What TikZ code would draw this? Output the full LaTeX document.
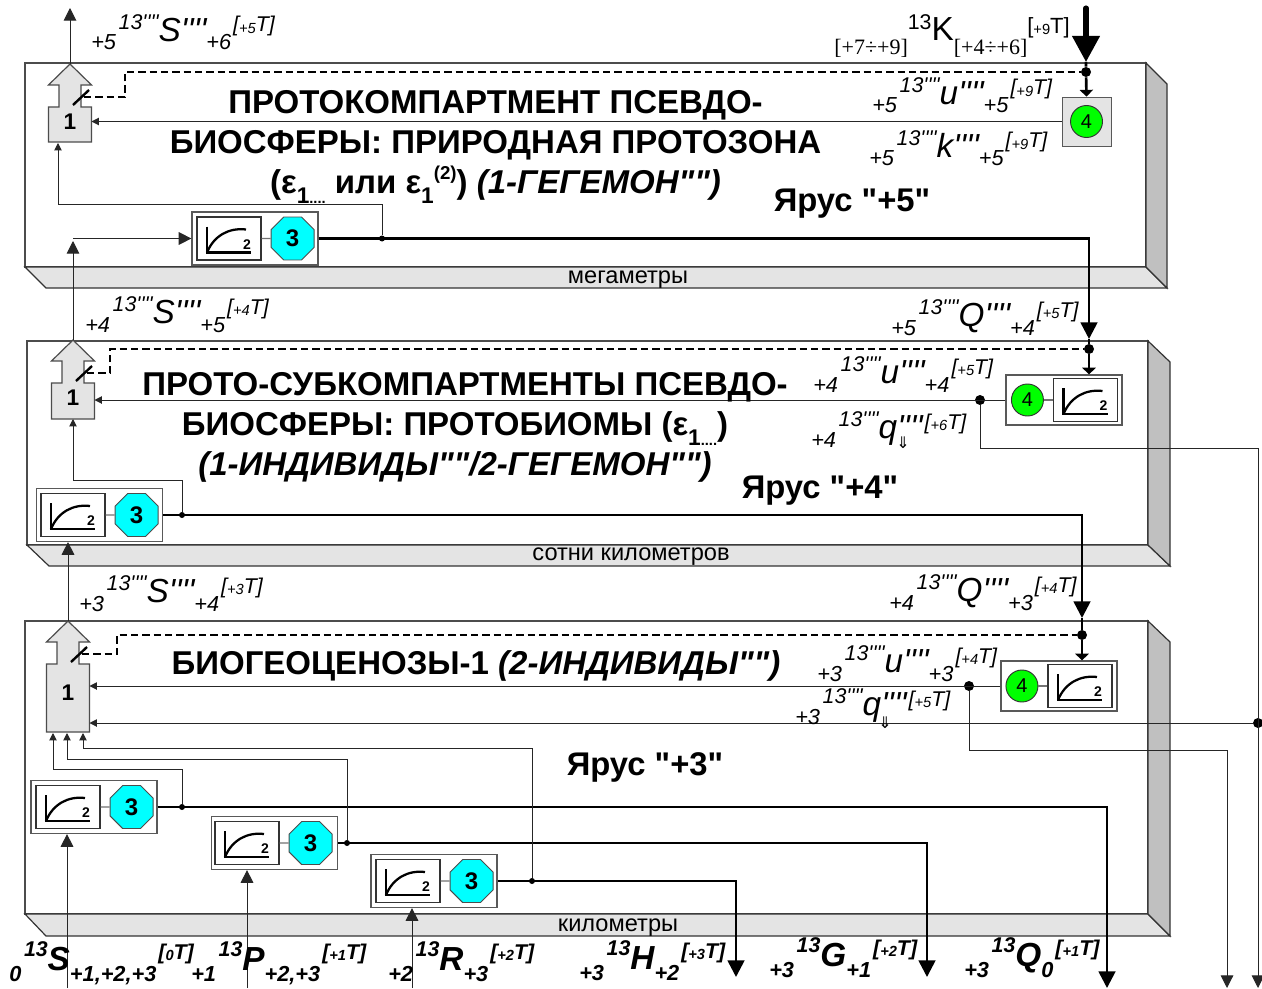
\documentclass[tikz,border=0pt]{standalone}
\usepackage{fontspec}
\setmainfont{Liberation Sans}[Ligatures=TeXOff]
\newfontfamily\kserif{Liberation Serif}[Ligatures=TeXOff]
\newfontfamily\arrowfont{DejaVu Sans}
\usetikzlibrary{arrows.meta,shapes.geometric,positioning}
\definecolor{bandgray}{HTML}{E4E4E4}
\definecolor{sidegray}{HTML}{C0C0C0}
\definecolor{octacyan}{HTML}{00FFFF}
\definecolor{roundgreen}{HTML}{00FF00}
\newcommand{\ionlab}[6][1]{{\fontsize{16.3}{17}\selectfont #2}\hspace{2pt}%
  \raisebox{#1\dimexpr 15.4pt\relax}{\fontsize{16}{16}\selectfont #3}%
  \raisebox{#1\dimexpr 6.5pt\relax}{\fontsize{25}{25}\selectfont #4}%
  {\fontsize{16.3}{17}\selectfont #5}\hspace{1.5pt}%
  \raisebox{#1\dimexpr 13.5pt\relax}{\fontsize{16}{16}\selectfont [\raisebox{-1pt}{\fontsize{11}{11}\selectfont #6}T]}}
\newcommand{\epsdots}{ε\raisebox{-.32em}{\fontsize{17}{17}\selectfont 1\fontsize{11}{11}\selectfont ....}}
\newcommand{\epstwo}{ε\raisebox{-.32em}{\fontsize{17}{17}\selectfont 1}\raisebox{.42em}{\fontsize{14}{14}\selectfont (2)}}
\begin{document}
\begin{tikzpicture}[x=0.75pt,y=-0.75pt, panelfront/.style={draw=black!70,line width=0.9pt,fill=white},
  panelband/.style={draw=black!80,line width=0.9pt,fill=bandgray}, panelside/.style={draw=black!80,line width=0.9pt,fill=sidegray},
  title/.style={font=\bfseries\fontsize{24.75}{30}\selectfont,align=center,inner sep=0pt},
  tier/.style={font=\bfseries\fontsize{24.6}{25}\selectfont,inner sep=0pt}, unit/.style={font=\fontsize{17.7}{18}\selectfont,inner sep=0pt},
  ion/.style={font=\itshape,inner sep=0pt,anchor=base west}, ionb/.style={ion,font=\itshape\bfseries},
  outer/.style={draw=black!65,line width=0.9pt,fill=white,minimum width=94.5pt,minimum height=39.75pt,inner sep=0pt},
  octa/.style={regular polygon,regular polygon sides=8,draw=black!70,line width=0.7pt,fill=octacyan,minimum size=34.9pt,inner sep=0pt,font=\bfseries\fontsize{18}{18}\selectfont},
  round/.style={circle,draw=black!80,line width=0.7pt,fill=roundgreen,minimum size=24pt,inner sep=0pt,font=\fontsize{15}{15}\selectfont},
  square/.style={draw=black!65,line width=0.7pt,fill=bandgray,minimum size=36.75pt,inner sep=0pt},
  dot/.style={circle,fill=black,minimum size=7.5pt,inner sep=0pt}, tap/.style={circle,fill=black,minimum size=4.5pt,inner sep=0pt},
  thin line/.style={black!85,line width=0.75pt}, link/.style={black!55,line width=0.8pt},
  thick line/.style={black,line width=2pt}, dashline/.style={black,line width=1.8pt,dash pattern=on 5.5pt off 3pt},
  ar/.style={thin line,-{Triangle[length=5.5pt,width=5.5pt]}}, arb/.style={thin line,-{Triangle[length=9.5pt,width=9.5pt]}},
  arout/.style={thick line,-{Triangle[length=12.5pt,width=12.5pt]}}, arin/.style={thick line,-{Triangle[length=5pt,width=10pt]}},
  curvebox/.pic={\node[draw=black!80,line width=0.9pt,fill=white,minimum width=48pt,minimum height=32.25pt,inner sep=0pt] (box) at (0,0) {};
    \draw[black,line width=1.7pt] (-22,-12) -- (-22,14) -- (22,14);
    \draw[black,line width=1.7pt] (-22,14) .. controls (-15,-3) and (0,-11) .. (17,-9);
    \node[inner sep=0pt,font=\bfseries\fontsize{10.5}{10.5}\selectfont] (two) at (18,6) {2};},
  tierblock/.pic={\draw[draw=black!70,line width=0.9pt,fill=bandgray] (0,0) -- (21.5,21) -- (11,21) -- (11,43) -- (21.5,43) -- (21.5,#1) -- (-21.5,#1) -- (-21.5,43) -- (-11,43) -- (-11,21) -- (-21.5,21) -- cycle;
    \draw[black,line width=1.8pt] (3,41) -- (19,26);
    \node[inner sep=0pt,font=\bfseries\fontsize{17}{17}\selectfont] (num) at ({0},{43+(#1-43)*.42}) {1};
    \coordinate (north) at (0,0); \coordinate (south) at (0,#1); \coordinate (east) at (21.5,60); \coordinate (sw) at (14,33);}]
 \useasboundingbox (0,0) rectangle (1262,988);
 % panels
 \draw[panelfront] (25,63) rectangle (1146,267); \draw[panelband] (25,267) -- (1146,267) -- (1167,288) -- (46,288) -- cycle; \draw[panelside] (1146,63) -- (1167,84) -- (1167,288) -- (1146,267) -- cycle;
 \draw[panelfront] (27,341) rectangle (1148,545); \draw[panelband] (27,545) -- (1148,545) -- (1170,566) -- (49,566) -- cycle; \draw[panelside] (1148,341) -- (1170,362) -- (1170,566) -- (1148,545) -- cycle;
 \draw[panelfront] (25,621) rectangle (1148,914); \draw[panelband] (25,914) -- (1148,914) -- (1170,936) -- (46,936) -- cycle; \draw[panelside] (1148,621) -- (1170,642) -- (1170,936) -- (1148,914) -- cycle;
 % blocks
 \pic (b5) at (70,64) {tierblock=78};
 \pic (b4) at (73,340) {tierblock=79};
 \pic (b3) at (68,621) {tierblock=111};
 \node[outer] (o5) at (255,238.5) {}; \pic (g5) at (229,238.5) {curvebox}; \node[octa, right=6.75pt of g5box] (h5) {3};
 \node[outer] (o4) at (99.5,515) {}; \pic (g4) at (73,515) {curvebox}; \node[octa, right=6.75pt of g4box] (h4) {3};
 \node[outer] (oa) at (94,807) {}; \pic (ga) at (68,807) {curvebox}; \node[octa, right=6.75pt of gabox] (ha) {3};
 \node[outer] (ob) at (274.5,843) {}; \pic (gb) at (247,843) {curvebox}; \node[octa, right=6.75pt of gbbox] (hb) {3};
 \node[outer] (oc) at (434,881) {}; \pic (gc) at (408,881) {curvebox}; \node[octa, right=6.75pt of gcbox] (hc) {3};
 \node[square] (q5) at (1086.5,121.5) {}; \node[round] (c5) at (q5.center) {4};
 \node[outer, minimum width=87pt, minimum height=37.5pt] (q4) at (1064,400) {}; \pic (g4r) at (1085.5,400) {curvebox}; \node[round, left=6.75pt of g4rbox] (c4) {4};
 \node[outer, minimum width=87pt, minimum height=37.5pt] (q3) at (1059,686) {}; \pic (g3r) at (1080,686) {curvebox}; \node[round, left=6.75pt of g3rbox] (c3) {4};
 % junctions
 \node[dot] (d5) at (1086,72) {}; \node[dot] (d4) at (1089,349) {}; \node[dot] (d3) at (1082,635) {};
 \node[dot] (r4) at (980,400) {}; \node[dot] (r3) at (969,686) {}; \node[dot] (r3q) at (1258,723) {};
 \node[tap] (j5) at (382,238.5) {}; \node[tap] (j4) at (182,515) {}; \node[tap] (ja) at (182,807) {}; \node[tap] (jb) at (347,843) {}; \node[tap] (jc) at (532,881) {};
 \coordinate (kin) at (1086,8); \coordinate (a5) at (1086,62); \coordinate (a4) at (1089,339); \coordinate (a3) at (1082,618);
 \coordinate (t5) at (125,72); \coordinate (t4) at (110,349); \coordinate (t3) at (117,635);
 \coordinate (i5) at (58,143); \coordinate (i4) at (73,241); \coordinate (top5) at (70,8); \coordinate (up3) at (53,733); \coordinate (up2) at (67,733); \coordinate (up1) at (83,733);
 \coordinate (outh) at (736,977); \coordinate (outg) at (927,977); \coordinate (outq) at (1107,988); \coordinate (x4) at (1258,448); \coordinate (x3) at (1227,750); \coordinate (out4) at (1258,988); \coordinate (out3) at (1227,988);
 \coordinate (ins) at (67,988); \coordinate (inp) at (247,988); \coordinate (inr) at (412,988);
 % signal lines
 \draw[dashline] (b5sw) -| (t5) -- (d5); \draw[dashline] (b4sw) -| (t4) -- (d4); \draw[dashline] (b3sw) -| (t3) -- (d3);
 \draw[black,line width=3.8pt,line cap=round,-{Triangle[length=19.5pt,width=20pt]}] (kin) -- (a5);
 \draw[arin] (a5) -- (d5) -- (q5.north); \draw[arin] (a4) -- (d4) -- (d4 |- q4.north); \draw[arin] (a3) -- (d3) -- (d3 |- q3.north);
 \draw[arout] (o5.east) -| (a4); \draw[arout] (o4.east) -| (a3);
 \draw[arout] (oa.east) -| (outq); \draw[arout] (ob.east) -| (outg); \draw[arout] (oc.east) -| (outh);
 \draw[ar] (q5.west) -- (q5.west -| b5east); \draw[ar] (q4.west) -- (q4.west -| b4east); \draw[ar] (q3.west) -- (q3.west -| b3east); \draw[ar] (r3q) -- (r3q -| b3east);
 \draw[ar] (j5) -- ++(0,-34) -| (i5); \draw[ar] (j4) -- ++(0,-35) -| (b4south); \draw[ar] (ja) -- ++(0,-38) -| (up3); \draw[ar] (jb) -- ++(0,-84) -| (up2); \draw[ar] (jc) -- ++(0,-133) -| (up1);
 \draw[thin line,-{Triangle[length=9.5pt,width=9.5pt]}] (b5north) -- (top5); \draw[arb] (b4north) -- (i4); \draw[arb] (i4 |- o5.west) -- (o5.west); \draw[arb] (b3north) -- (b3north |- o4.south);
 \draw[arb] (ins) -- (ins |- oa.south); \draw[arb] (inp) -- (inp |- ob.south); \draw[arb] (inr) -- (inr |- oc.south);
 \draw[thin line] (r4) |- (x4) -- (r3q |- x4); \draw[arb] (x4) -- (out4); \draw[thin line] (r3) |- (x3); \draw[arb] (x3) -- (out3);
 \draw[link] (g5box) -- (h5); \draw[link] (g4box) -- (h4); \draw[link] (gabox) -- (ha); \draw[link] (gbbox) -- (hb); \draw[link] (gcbox) -- (hc); \draw[link] (g4rbox) -- (c4); \draw[link] (g3rbox) -- (c3);
 % texts
 \node[title] (name5) at (495.5,147) {ПРОТОКОМПАРТМЕНТ ПСЕВДО-\\БИОСФЕРЫ: ПРИРОДНАЯ ПРОТОЗОНА\\(\epsdots{} или \epstwo) \textit{(1-ГЕГЕМОН"")}};
 \node[title] (name4) at (455,427) {\hspace*{15pt}ПРОТО-СУБКОМПАРТМЕНТЫ ПСЕВДО-\\БИОСФЕРЫ: ПРОТОБИОМЫ (\epsdots)\\\textit{(1-ИНДИВИДЫ""/2-ГЕГЕМОН"")}};
 \node[title] (name3) at (476,666) {БИОГЕОЦЕНОЗЫ-1 \textit{(2-ИНДИВИДЫ"")}};
 \node[tier] (tier5) at (852,204) {Ярус "+5"}; \node[tier] (tier4) at (820,491) {Ярус "+4"}; \node[tier] (tier3) at (645,767) {Ярус "+3"};
 \node[unit] (unit5) at (628,280) {мегаметры}; \node[unit] (unit4) at (631,557) {сотни километров}; \node[unit] (unit3) at (618,928) {километры};
 \node[ion] (s5) at (91,50) {\ionlab{+5}{13''''}{S''''}{+6}{+5}};
 \node[ion] (s4) at (85,332) {\ionlab{+4}{13''''}{S''''}{+5}{+4}};
 \node[ion] (s3) at (79,611) {\ionlab{+3}{13''''}{S''''}{+4}{+3}};
 \node[ion] (u5) at (872,113) {\ionlab{+5}{13''''}{u''''}{+5}{+9}};
 \node[ion] (k5) at (869,166) {\ionlab{+5}{13''''}{k''''}{+5}{+9}};
 \node[ion] (q54) at (891,335) {\ionlab{+5}{13''''}{Q''''}{+4}{+5}};
 \node[ion] (u4) at (813,392) {\ionlab{+4}{13''''}{u''''}{+4}{+5}};
 \node[ion] (q44) at (811,447) {\ionlab{+4}{13''''}{q''''}{}{+6}};
 \node[ion] (q43) at (889,610) {\ionlab{+4}{13''''}{Q''''}{+3}{+4}};
 \node[ion] (u3) at (817,681) {\ionlab{+3}{13''''}{u''''}{+3}{+4}};
 \node[ion] (q35) at (795,724) {\ionlab{+3}{13''''}{q''''}{}{+5}};
 \node[inner sep=0pt,font=\arrowfont\fontsize{12}{12}\selectfont] (flow4) at (903,443) {⇓}; \node[inner sep=0pt,font=\arrowfont\fontsize{12}{12}\selectfont] (flow3) at (885,723) {⇓};
 \node[ionb] (s0) at (9,981) {\ionlab[1.2]{0}{13}{S}{+1,+2,+3}{0}};
 \node[ionb] (p1) at (191,981) {\ionlab[1.2]{+1}{13}{P}{+2,+3}{+1}};
 \node[ionb] (r2) at (388,981) {\ionlab[1.2]{+2}{13}{R}{+3}{+2}};
 \node[ionb] (h3) at (579,980) {\ionlab[1.2]{+3}{13}{H}{+2}{+3}};
 \node[ionb] (g3) at (769,977) {\ionlab[1.2]{+3}{13}{G}{+1}{+2}};
 \node[ionb] (q30) at (964,977) {\ionlab[1.2]{+3}{13}{Q}{0}{+1}};
 \node[inner sep=0pt,anchor=base west] (k13) at (834,55) {{\kserif\fontsize{16.5}{16}\selectfont [+7÷+9]}\raisebox{19pt}{\fontsize{16}{16}\selectfont 13}\raisebox{11pt}{\fontsize{25}{25}\selectfont K}{\kserif\fontsize{16.5}{16}\selectfont [+4÷+6]}\raisebox{16pt}{\fontsize{16.5}{16}\selectfont [\raisebox{-1pt}{\fontsize{11}{11}\selectfont +9}T]}};
\end{tikzpicture}
\end{document}
